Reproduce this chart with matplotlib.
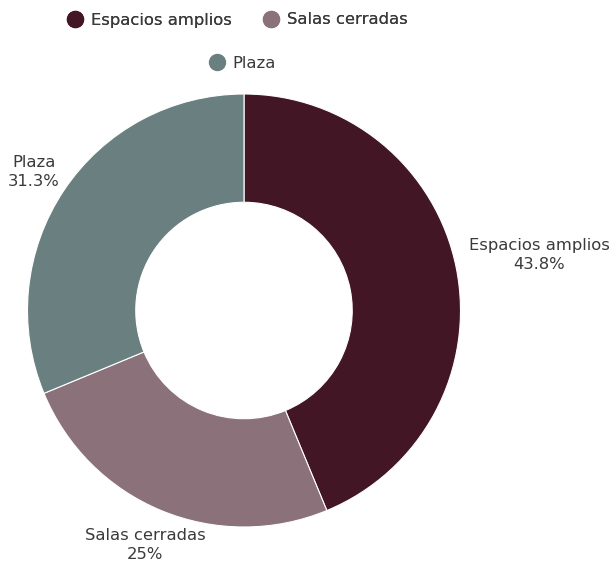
import matplotlib
matplotlib.use("Agg")
import matplotlib.pyplot as plt
from matplotlib.lines import Line2D

categories = ["Espacios amplios", "Salas cerradas", "Plaza"]
values = [43.75, 25.0, 31.25]
value_labels = ["43.8%", "25%", "31.3%"]
colors = ["#421624", "#8b717a", "#697f80"]

# label anchor points (data units, pie radius = 1)
label_pos = [(1.363, 0.255), (-0.457, -1.083), (-0.970, 0.640)]

W, H = 613, 565
fig = plt.figure(figsize=(W / 100, H / 100), dpi=100)
plt.rcParams["font.family"] = ["DejaVu Sans"]
text_color = "#3a3a3a"

cx, cy, r = 244, 310.5, 216.5
ax = fig.add_axes([(cx - r) / W, (H - cy - r) / H, 2 * r / W, 2 * r / H])
ax.pie(values, colors=colors, startangle=90, counterclock=False, radius=1,
       wedgeprops=dict(width=0.5, edgecolor="white", linewidth=0.8))
ax.set_xlim(-1, 1)
ax.set_ylim(-1, 1)
ax.set_aspect("equal")
ax.axis("off")

for (x, y), name, lab in zip(label_pos, categories, value_labels):
    ax.text(x, y, f"{name}\n{lab}", ha="center", va="center", fontsize=11.8,
            color=text_color, linespacing=1.35, clip_on=False)

def handle(c):
    return Line2D([], [], marker="o", linestyle="none", markersize=11.5,
                  markerfacecolor=c, markeredgecolor=c)

leg1 = fig.legend([handle(colors[0]), handle(colors[1])], categories[:2],
                  loc="center", bbox_to_anchor=(0.387, 1 - 20 / H), ncol=2,
                  frameon=False, fontsize=11.8, handletextpad=0.45,
                  columnspacing=1.9, handlelength=1.0, labelcolor=text_color)
fig.add_artist(leg1)
fig.legend([handle(colors[2])], categories[2:], loc="center",
           bbox_to_anchor=(0.395, 1 - 63 / H), frameon=False, fontsize=11.8,
           handletextpad=0.45, handlelength=1.0, labelcolor=text_color)

fig.savefig("out.png", dpi=100)
